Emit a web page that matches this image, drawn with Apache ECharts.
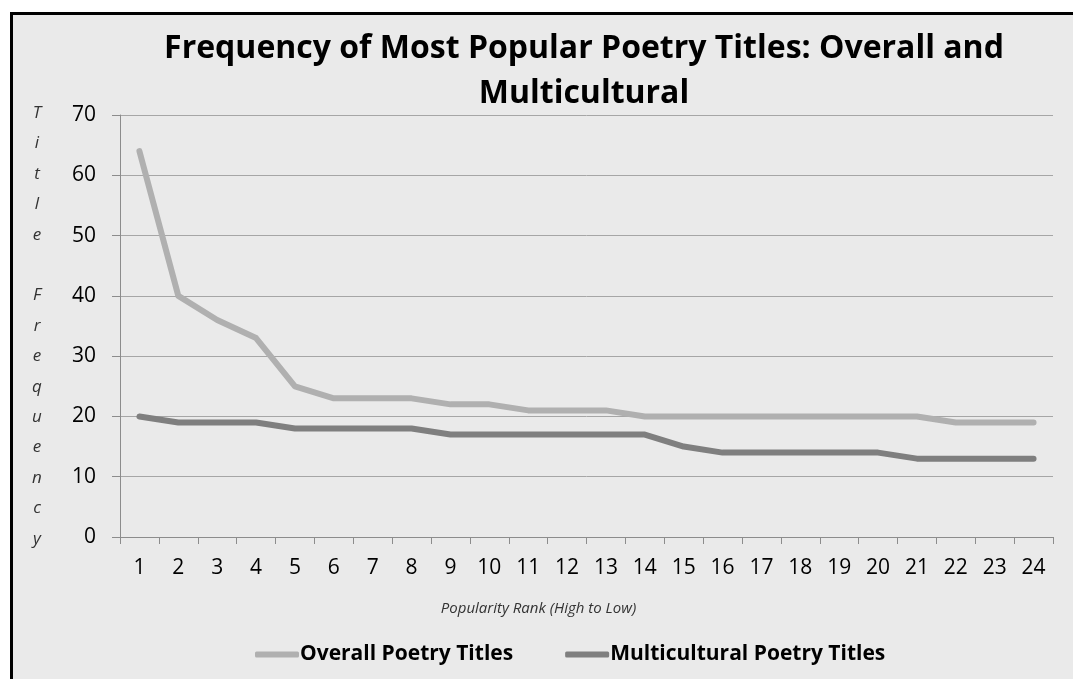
<!DOCTYPE html>
<html>
<head>
<meta charset="utf-8">
<title>Frequency of Most Popular Poetry Titles</title>
<script src="https://cdn.jsdelivr.net/npm/echarts@6/dist/echarts.min.js"></script>
<style>
  html, body { margin: 0; padding: 0; background: #ffffff; }
  #frame {
    position: absolute; left: 10px; top: 12px; right: 0; bottom: 0;
    background: #eaeaea;
    border-top: 3px solid #000; border-left: 3px solid #000;
  }
  #chart { position: absolute; left: 0; top: 0; width: 1073px; height: 679px; }
</style>
</head>
<body>
<div id="frame"></div>
<div id="chart"></div>
<script>
// Popularity ranks 1..24
const ranks = ['1','2','3','4','5','6','7','8','9','10','11','12','13','14','15','16','17','18','19','20','21','22','23','24'];
// Title frequency for each rank
const overallTitles = [64, 40, 36, 33, 25, 23, 23, 23, 22, 22, 21, 21, 21, 20, 20, 20, 20, 20, 20, 20, 20, 19, 19, 19];
const multiculturalTitles = [20, 19, 19, 19, 18, 18, 18, 18, 17, 17, 17, 17, 17, 17, 15, 14, 14, 14, 14, 14, 13, 13, 13, 13];
const seriesNames = ['Overall Poetry Titles', 'Multicultural Poetry Titles'];

const FONT = '"Open Sans", "Liberation Sans", sans-serif';

const chart = echarts.init(document.getElementById('chart'), null, { renderer: 'canvas' });

chart.setOption({
  backgroundColor: 'transparent',
  animation: false,
  title: {
    text: 'Frequency of Most Popular Poetry Titles: Overall and\nMulticultural',
    left: 584,
    top: 26,
    textAlign: 'center',
    padding: 0,
    textStyle: {
      fontFamily: FONT,
      fontWeight: 'bold',
      fontSize: 32,
      lineHeight: 45,
      color: '#000'
    }
  },
  legend: {
    data: seriesNames,
    bottom: 14,
    left: 255,
    padding: 0,
    icon: 'roundRect',
    itemWidth: 44,
    itemHeight: 6,
    itemGap: 52,
    textStyle: {
      fontFamily: FONT,
      fontWeight: 'bold',
      fontSize: 21,
      color: '#000',
      padding: [0, 0, 0, -4]
    }
  },
  grid: { left: 120, right: 20, top: 115, bottom: 142, containLabel: false },
  xAxis: {
    type: 'category',
    data: ranks,
    boundaryGap: true,
    name: 'Popularity Rank (High to Low)',
    nameLocation: 'middle',
    nameGap: 64,
    nameTextStyle: {
      fontFamily: FONT, fontStyle: 'italic', fontSize: 15, color: '#333333',
      padding: [0, 96, 0, 0]
    },
    axisLine: { show: true, lineStyle: { color: '#8c8c8c', width: 1 } },
    axisTick: { show: true, length: 7, alignWithLabel: false, lineStyle: { color: '#8c8c8c' } },
    axisLabel: { fontFamily: FONT, fontSize: 21, color: '#000', margin: 21, interval: 0 },
    splitLine: { show: false }
  },
  yAxis: {
    type: 'value',
    min: 0,
    max: 70,
    interval: 10,
    name: 'T\ni\nt\nl\ne\n\nF\nr\ne\nq\nu\ne\nn\nc\ny',
    nameLocation: 'middle',
    nameRotate: 0,
    nameGap: 83,
    nameTextStyle: {
      fontFamily: FONT, fontStyle: 'italic', fontSize: 17, lineHeight: 30.4,
      color: '#333333', align: 'center', verticalAlign: 'middle'
    },
    axisLine: { show: true, lineStyle: { color: '#8c8c8c', width: 1 } },
    axisTick: { show: true, length: 8, lineStyle: { color: '#8c8c8c' } },
    axisLabel: { fontFamily: FONT, fontSize: 21, color: '#000', margin: 24 },
    splitLine: { show: true, lineStyle: { color: '#a6a6a6', width: 1 } }
  },
  series: [
    {
      name: seriesNames[0],
      type: 'line',
      data: overallTitles,
      symbol: 'none',
      itemStyle: { color: '#b0b0b0' },
      lineStyle: { color: '#b0b0b0', width: 6, cap: 'round', join: 'round' },
      z: 3
    },
    {
      name: seriesNames[1],
      type: 'line',
      data: multiculturalTitles,
      symbol: 'none',
      itemStyle: { color: '#7f7f7f' },
      lineStyle: { color: '#7f7f7f', width: 6, cap: 'round', join: 'round' },
      z: 4
    }
  ]
});
</script>
</body>
</html>
